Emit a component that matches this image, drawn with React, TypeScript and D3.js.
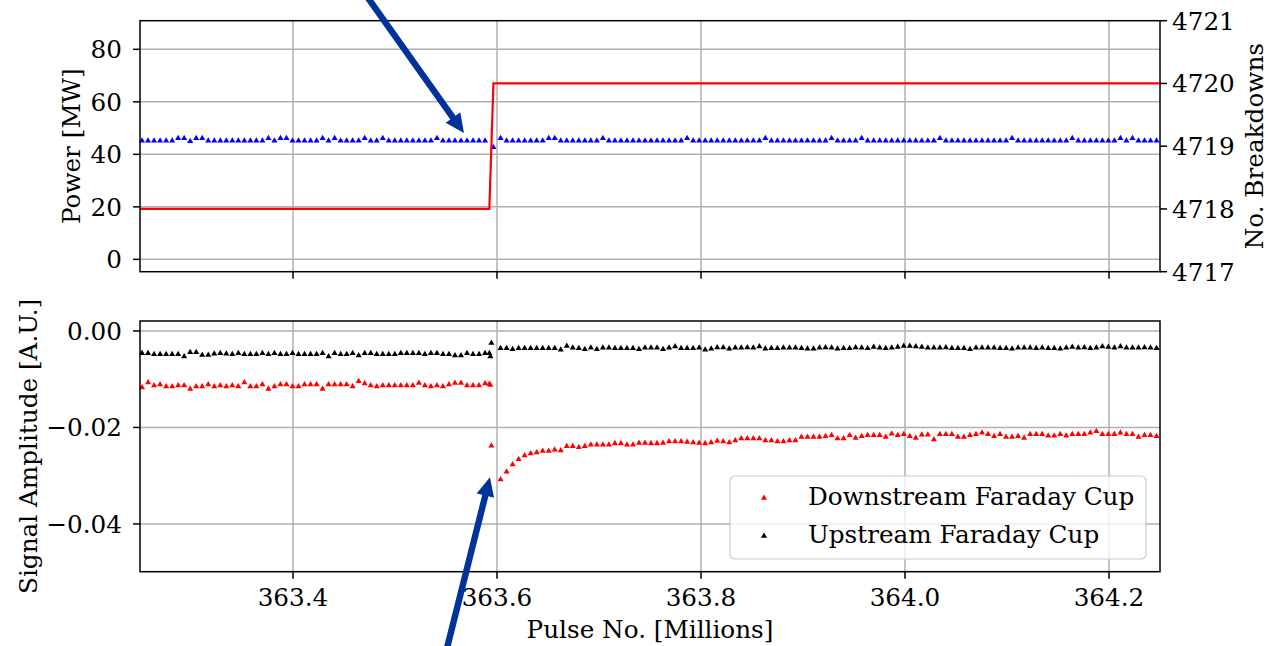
import * as d3 from 'd3'

// pulse numbers [millions]: regular sampling before / after the breakdown
const PRE_START = 363.252
const POST_START = 363.6035
const STEP = 0.0059

// signal amplitudes, in units of 1e-4 A.U.
const downstreamPre = [
  -117, -107, -113, -111, -115, -115, -113, -113, -120, -115,
  -115, -111, -115, -113, -115, -113, -115, -107, -115, -115,
  -111, -120, -115, -111, -111, -115, -115, -111, -111, -111,
  -120, -111, -111, -111, -111, -115, -104, -109, -113, -115,
  -113, -113, -113, -113, -113, -113, -108, -113, -115, -113,
  -115, -111, -108, -108, -113, -113, -113, -109,
]
const upstreamPre = [
  -46, -46, -48, -48, -48, -48, -48, -53, -44, -44,
  -50, -50, -47, -46, -47, -48, -46, -48, -48, -48,
  -46, -48, -46, -48, -48, -46, -48, -48, -48, -48,
  -46, -53, -46, -48, -48, -46, -51, -46, -46, -48,
  -48, -48, -48, -46, -46, -46, -46, -48, -46, -46,
  -48, -48, -51, -51, -46, -48, -48, -46,
]
const jumpPulse = [363.5925, 363.5935, 363.5945]
const downstreamJump = [-110, -112, -238]
const upstreamJump = [-46, -53, -25]
const downstreamPost = [
  -308, -292, -277, -266, -258, -254, -252, -249, -249, -246,
  -248, -239, -239, -241, -239, -236, -236, -236, -236, -233,
  -233, -236, -236, -232, -232, -233, -233, -232, -229, -229,
  -229, -230, -231, -232, -233, -231, -228,
  -229, -231, -227, -223, -223, -223, -223, -227, -227, -229,
  -229, -227, -227, -220, -220, -220, -220, -218, -216, -223,
  -223, -216, -222, -218, -216, -216, -216, -220, -213, -216,
  -214, -218, -222, -215, -215, -225, -214, -214, -214, -220,
  -220, -216, -214, -211, -214, -218, -214, -220, -220, -218,
  -222, -214, -214, -214, -217, -217, -214, -217, -214, -214,
  -214, -211, -208, -214, -214, -214, -211, -214, -214, -220,
  -216, -216, -218,
]
const upstreamPost = [
  -36, -36, -38, -36, -36, -36, -36, -36, -36, -36,
  -39, -31, -35, -36, -38, -35, -38, -35, -35, -36,
  -36, -36, -36, -38, -35, -35, -35, -38, -35, -32,
  -36, -36, -36, -35, -39, -37, -34, -34, -37, -35,
  -35, -34, -35, -32, -37, -36, -36, -35, -35, -35,
  -36, -37, -37, -35, -34, -35, -37, -36, -36, -34,
  -35, -36, -33, -35, -36, -35, -33, -31, -31, -32,
  -33, -35, -35, -35, -34, -36, -36, -36, -38, -35,
  -35, -35, -35, -36, -36, -37, -35, -35, -35, -36,
  -35, -36, -36, -37, -35, -33, -35, -34, -36, -35,
  -32, -33, -35, -32, -35, -35, -35, -34, -35, -36,
]

// forward power [MW]
const powerPre = [
  45.2, 45.2, 45.2, 45.2, 45.2, 45.2, 46.1, 46.1, 45.0, 46.1,
  46.1, 45.2, 45.2, 45.2, 45.2, 45.2, 45.2, 45.2, 45.2, 45.2,
  45.2, 46.1, 45.2, 46.1, 46.1, 45.2, 45.2, 45.2, 45.2, 45.2,
  46.1, 45.2, 46.1, 45.2, 45.2, 45.2, 45.2, 46.1, 45.2, 45.2,
  46.1, 45.2, 45.2, 45.2, 45.2, 45.2, 45.2, 45.2, 45.2, 46.1,
  45.2, 45.2, 45.2, 45.2, 45.2, 45.2, 45.2, 45.2,
]
const powerJumpPulse = [363.5965]
const powerJump = [42.7]
const powerPost = [
  46.1, 45.2, 45.2, 45.2, 45.2, 45.2, 45.2, 45.2, 46.1, 46.1,
  45.2, 45.2, 45.2, 45.2, 45.2, 45.2, 45.2, 46.1, 45.2, 45.2,
  45.2, 45.2, 45.2, 45.2, 45.2, 45.2, 45.2, 45.2, 45.2, 45.2,
  45.2, 46.1, 45.2, 45.2, 45.2, 45.2, 45.2, 45.2, 45.2, 45.2,
  45.2, 45.2, 45.2, 45.2, 46.1, 45.2, 45.2, 45.2, 45.2, 45.2,
  45.2, 45.2, 45.2, 45.2, 45.2, 46.1, 45.2, 45.2, 45.2, 45.2,
  46.1, 45.2, 45.2, 45.2, 45.2, 45.2, 45.2, 45.2, 45.2, 45.2,
  45.2, 45.2, 45.2, 46.1, 45.2, 45.2, 45.2, 45.2, 45.2, 45.2,
  45.2, 45.2, 45.2, 45.2, 45.2, 46.1, 45.2, 45.2, 45.2, 45.2,
  45.2, 45.2, 45.2, 45.2, 45.2, 46.1, 45.2, 45.2, 45.2, 45.2,
  45.2, 45.2, 45.2, 46.1, 45.2, 46.1, 45.2, 45.2, 45.2, 45.2,
]

// cumulative breakdown count
const breakdownPulse = [363.25, 363.5925, 363.5965, 364.25]
const breakdownCount = [4718, 4718, 4720, 4720]

const xTicks = [363.4, 363.6, 363.8, 364.0, 364.2]
const powerTicks = [0, 20, 40, 60, 80]
const breakdownTicks = [4717, 4718, 4719, 4720, 4721]
const ampTicks = [0, -0.02, -0.04]

const FONT = 'DejaVu Serif'
const FS = 24.7
const GRID = '#b0b0b0'
const ARROW = '#003399'

function join(pre: number[], jp: number[], jv: number[], post: number[], k = 1) {
  return [
    ...pre.map((v, i) => [PRE_START + STEP * i, v * k] as [number, number]),
    ...jv.map((v, i) => [jp[i], v * k] as [number, number]),
    ...post.map((v, i) => [POST_START + STEP * i, v * k] as [number, number]),
  ]
}

function arrowPath(x0: number, y0: number, x1: number, y1: number) {
  const len = Math.hypot(x1 - x0, y1 - y0)
  const ux = (x1 - x0) / len, uy = (y1 - y0) / len
  const nx = -uy, ny = ux
  const w = 3.2, hl = 19, hw = 9
  const bx = x1 - ux * hl, by = y1 - uy * hl
  const pts = [
    [x0 + nx * w, y0 + ny * w], [bx + nx * w, by + ny * w], [bx + nx * hw, by + ny * hw],
    [x1, y1],
    [bx - nx * hw, by - ny * hw], [bx - nx * w, by - ny * w], [x0 - nx * w, y0 - ny * w],
  ]
  return 'M' + pts.map(p => p.join(',')).join('L') + 'Z'
}

const fmtAmp = (v: number) => (v < 0 ? '\u2212' : '') + Math.abs(v).toFixed(2)

export default function App() {
  const left = 140, right = 1160
  const top1 = 20.7, bot1 = 271.7
  const top2 = 321, bot2 = 571.7

  const x = d3.scaleLinear().domain([363.25, 364.25]).range([left, right])
  const yPower = d3.scaleLinear().domain([-4.7, 90.9]).range([bot1, top1])
  const yCount = d3.scaleLinear().domain([4717, 4721]).range([bot1, top1])
  const yAmp = d3.scaleLinear().domain([-0.0499, 0.00207]).range([bot2, top2])

  const power = join(powerPre, powerJumpPulse, powerJump, powerPost)
  const down = join(downstreamPre, jumpPulse, downstreamJump, downstreamPost, 1e-4)
  const up = join(upstreamPre, jumpPulse, upstreamJump, upstreamPost, 1e-4)

  const tri = d3.symbol(d3.symbolTriangle, 16)() ?? undefined
  const line = d3.line<number>().x((_, i) => x(breakdownPulse[i])).y(d => yCount(d))

  const topTip: [number, number] = [x(363.5676), yPower(48.1)]
  const botTip: [number, number] = [x(363.5931), yAmp(-0.0303)]

  const markers = (pts: [number, number][], y: (v: number) => number, color: string) =>
    pts.map((p, i) => (
      <path key={i} d={tri} fill={color} transform={`translate(${x(p[0])},${y(p[1])})`} />
    ))

  return (
    <svg width={1268} height={646} style={{position: 'absolute', left: 0, top: 0, background: '#fff'}}
      fontFamily={FONT} fontSize={FS} fill="#000">
      {/* top panel */}
      <g stroke={GRID} strokeWidth={1.5}>
        {xTicks.map(t => <line key={t} x1={x(t)} x2={x(t)} y1={top1} y2={bot1} />)}
        {powerTicks.map(t => <line key={t} x1={left} x2={right} y1={yPower(t)} y2={yPower(t)} />)}
      </g>
      {markers(power, yPower, '#0000ff')}
      <path d={line(breakdownCount) ?? undefined} fill="none" stroke="#ff0000" strokeWidth={2.2} />
      <rect x={left} y={top1} width={right - left} height={bot1 - top1} fill="none" stroke="#000" strokeWidth={1.5} />
      <g stroke="#000" strokeWidth={1.5}>
        {xTicks.map(t => <line key={t} x1={x(t)} x2={x(t)} y1={bot1} y2={bot1 + 7} />)}
        {powerTicks.map(t => <line key={t} x1={left - 7} x2={left} y1={yPower(t)} y2={yPower(t)} />)}
        {breakdownTicks.map(t => <line key={t} x1={right} x2={right + 7} y1={yCount(t)} y2={yCount(t)} />)}
      </g>
      {powerTicks.map(t => (
        <text key={t} x={122} y={yPower(t)} dy="0.36em" textAnchor="end">{t}</text>
      ))}
      {breakdownTicks.map(t => (
        <text key={t} x={1172} y={yCount(t)} dy="0.36em">{t}</text>
      ))}
      <text transform={`translate(80,${(top1 + bot1) / 2}) rotate(-90)`} textAnchor="middle">Power [MW]</text>
      <text transform={`translate(1263,${(top1 + bot1) / 2}) rotate(-90)`} textAnchor="middle">No. Breakdowns</text>

      {/* bottom panel */}
      <g stroke={GRID} strokeWidth={1.5}>
        {xTicks.map(t => <line key={t} x1={x(t)} x2={x(t)} y1={top2} y2={bot2} />)}
        {ampTicks.map(t => <line key={t} x1={left} x2={right} y1={yAmp(t)} y2={yAmp(t)} />)}
      </g>
      {markers(down, yAmp, '#ff0000')}
      {markers(up, yAmp, '#000000')}
      <g>
        <rect x={730} y={476} width={416} height={83} rx={5} fill="#fff" fillOpacity={0.8} stroke="#cccccc" strokeWidth={1.2} />
        <path d={tri} fill="#ff0000" transform="translate(764,498)" />
        <text x={808} y={505}>Downstream Faraday Cup</text>
        <path d={tri} fill="#000000" transform="translate(764,536)" />
        <text x={808} y={543}>Upstream Faraday Cup</text>
      </g>
      <rect x={left} y={top2} width={right - left} height={bot2 - top2} fill="none" stroke="#000" strokeWidth={1.5} />
      <g stroke="#000" strokeWidth={1.5}>
        {xTicks.map(t => <line key={t} x1={x(t)} x2={x(t)} y1={bot2} y2={bot2 + 7} />)}
        {ampTicks.map(t => <line key={t} x1={left - 7} x2={left} y1={yAmp(t)} y2={yAmp(t)} />)}
      </g>
      {ampTicks.map(t => (
        <text key={t} x={122} y={yAmp(t)} dy="0.36em" textAnchor="end">{fmtAmp(t)}</text>
      ))}
      {xTicks.map(t => (
        <text key={t} x={x(t)} y={606} textAnchor="middle">{t.toFixed(1)}</text>
      ))}
      <text x={(left + right) / 2} y={638} textAnchor="middle">Pulse No. [Millions]</text>
      <text transform={`translate(37,${(top2 + bot2) / 2}) rotate(-90)`} textAnchor="middle">Signal Amplitude [A.U.]</text>

      {/* annotation arrows */}
      <path d={arrowPath(topTip[0] - 98, topTip[1] - 138, topTip[0], topTip[1])} fill={ARROW} />
      <path d={arrowPath(botTip[0] - 44, botTip[1] + 175, botTip[0], botTip[1])} fill={ARROW} />
    </svg>
  )
}
